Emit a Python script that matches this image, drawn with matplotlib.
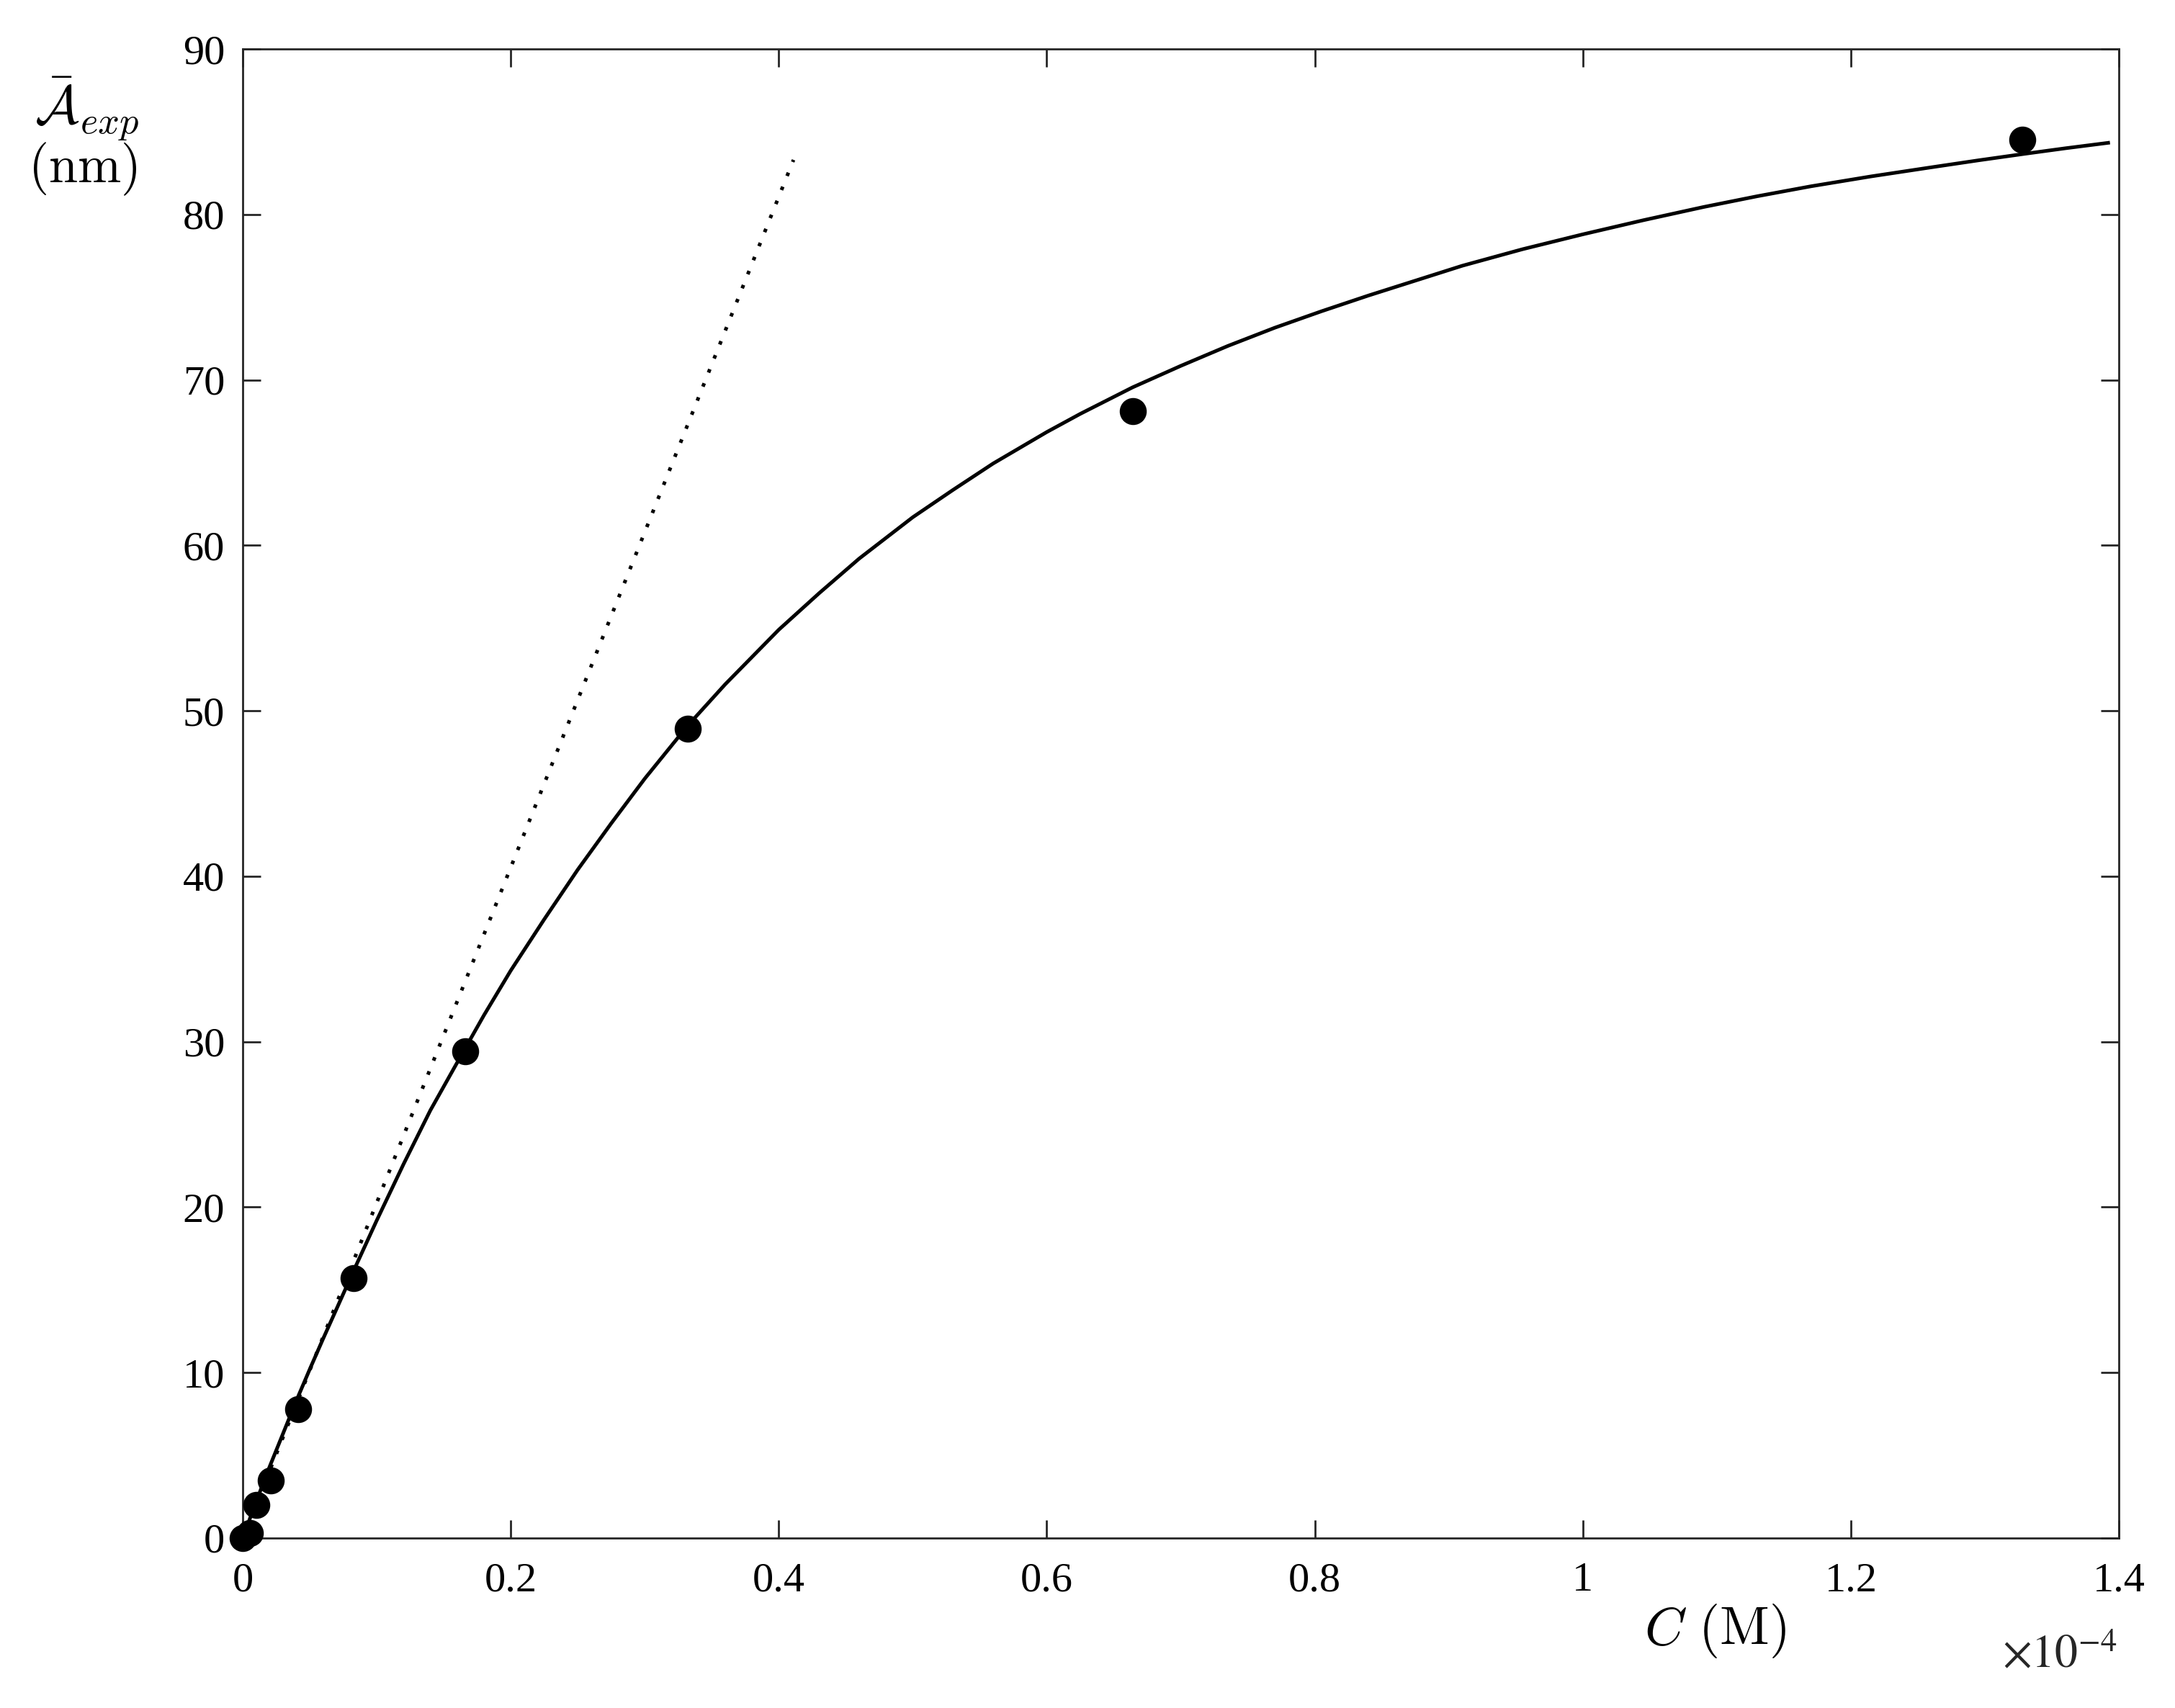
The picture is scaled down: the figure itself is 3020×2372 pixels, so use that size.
import numpy as np
import matplotlib
matplotlib.use("Agg")
import matplotlib.pyplot as plt

plt.rcParams['font.family'] = ['Liberation Serif', 'DejaVu Serif']
plt.rcParams['mathtext.fontset'] = 'cm'

# measured points (C in units of 1e-4 M, A in nm)
c_exp = [0.0, 0.0052, 0.0104, 0.0208, 0.0415, 0.083, 0.166, 0.332, 0.664, 1.328]
a_exp = [0.0, 0.3, 2.0, 3.5, 7.8, 15.7, 29.4, 48.9, 68.1, 84.5]

# fitted curve
c_fit = [0.0, 0.01, 0.02, 0.03, 0.04, 0.05, 0.06, 0.07, 0.083, 0.1, 0.12, 0.14,
         0.166, 0.18, 0.2, 0.225, 0.25, 0.275, 0.3, 0.332, 0.36, 0.4, 0.43, 0.46,
         0.5, 0.53, 0.56, 0.6, 0.625, 0.664, 0.7, 0.735, 0.77, 0.805, 0.84,
         0.875, 0.91, 0.955, 1.0, 1.045, 1.09, 1.13, 1.17, 1.215, 1.26, 1.295,
         1.33, 1.36, 1.392]
a_fit = [0.0, 2.2, 4.3, 6.3, 8.3, 10.2, 12.05, 13.85, 16.2, 19.2, 22.6, 25.85,
         29.6, 31.6, 34.3, 37.4, 40.4, 43.2, 45.9, 49.1, 51.6, 54.9, 57.1, 59.2,
         61.7, 63.35, 64.95, 66.85, 67.95, 69.55, 70.85, 72.05, 73.15, 74.15, 75.1,
         76.0, 76.9, 77.9, 78.8, 79.65, 80.45, 81.1, 81.7, 82.3, 82.85, 83.27,
         83.67, 84.0, 84.33]

# initial slope line
c_lin = [0.0, 0.411]
a_lin = [0.0, 83.3]

xticks = [0, 0.2, 0.4, 0.6, 0.8, 1.0, 1.2, 1.4]
xticklabels = ['0', '0.2', '0.4', '0.6', '0.8', '1', '1.2', '1.4']
yticks = list(range(0, 91, 10))

fig = plt.figure(figsize=(15.1, 11.86), dpi=200)
ax = fig.add_axes([0.1116, 0.0995, 0.8626, 0.8718])

ax.plot(c_lin, a_lin, color='black', lw=1.8, linestyle=(0, (1, 3.2)))
ax.plot(c_fit, a_fit, color='black', lw=1.8, solid_joinstyle='round')
ax.plot(c_exp, a_exp, 'o', color='black', ms=12.5, clip_on=False, zorder=5)

ax.set_xlim(0, 1.4)
ax.set_ylim(0, 90)
ax.set_xticks(xticks)
ax.set_xticklabels(xticklabels)
ax.set_yticks(yticks)
ax.tick_params(direction='in', length=9, width=1.0, color='#262626',
               labelsize=21, top=True, right=True)
ax.tick_params(axis='x', pad=12)
ax.tick_params(axis='y', pad=9)
for s in ax.spines.values():
    s.set_linewidth(1.0)
    s.set_color('#262626')

fig.text(0.040, 0.936, r'$\bar{\mathcal{A}}_{exp}$', fontsize=27, ha='center', va='center')
fig.text(0.038, 0.901, r'$(\mathrm{nm})$', fontsize=26, ha='center', va='center')
fig.text(0.7887, 0.045, r'$C\ (\mathrm{M})$', fontsize=27, ha='center', va='center')
fig.text(0.947, 0.030, r'$\times10^{-4}$', fontsize=23, ha='center', va='center',
         math_fontfamily='stix', color='#262626')

fig.savefig('out.png', dpi=200)
